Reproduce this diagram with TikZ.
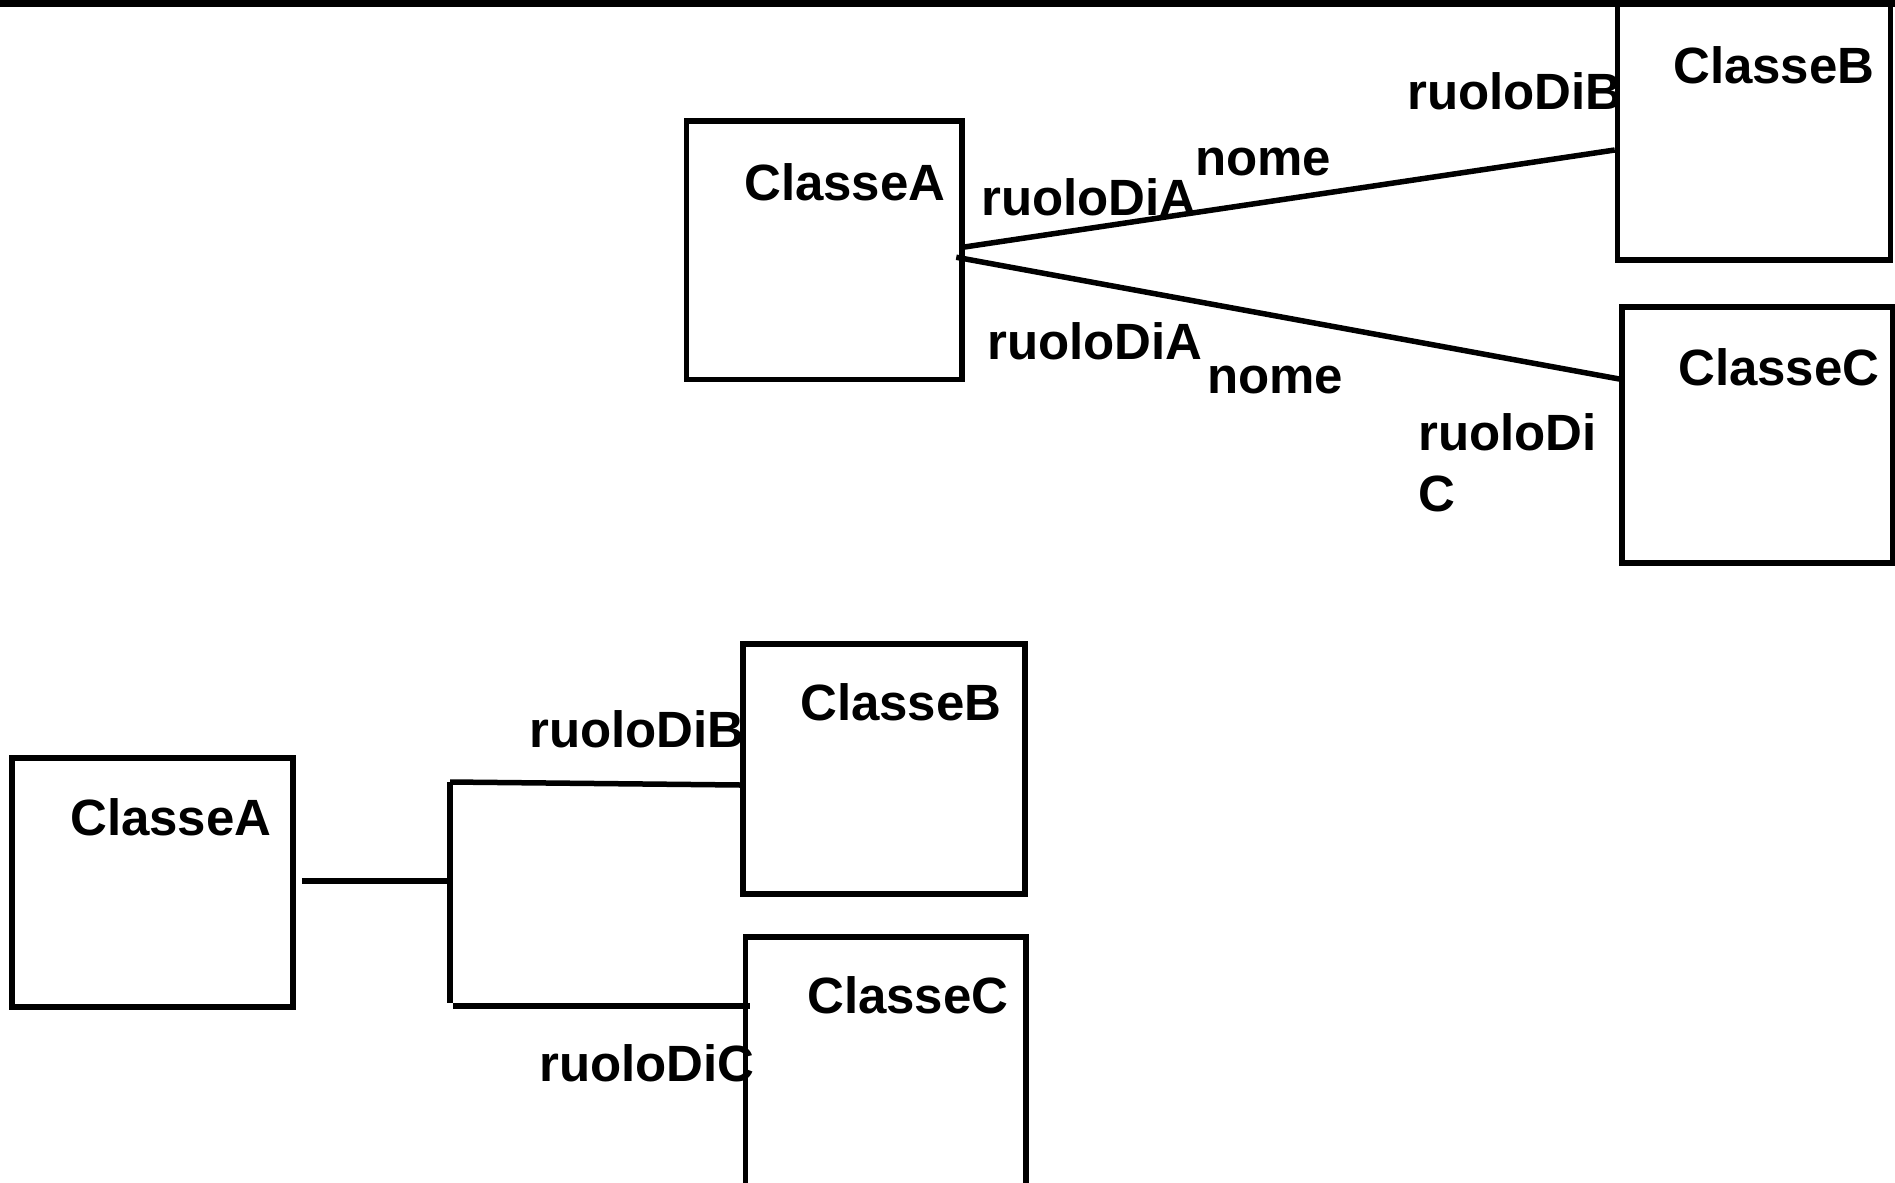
\documentclass[tikz,border=0pt]{standalone}
\usepackage{fontspec}
\setmainfont{Liberation Sans}
\begin{document}
\begin{tikzpicture}[x=1pt,y=-1pt,
  classbox/.style={draw,line width=5.5pt,inner sep=0pt,rectangle},
  lbl/.style={inner sep=0pt,anchor=base west,font=\fontsize{51}{61}\selectfont\bfseries},
  conn/.style={line width=5.5pt}]
\useasboundingbox (0,0) rectangle (1895,1183);

% ---- upper diagram: direct associations ----
\node[classbox,minimum width=275.5pt,minimum height=258.5pt] (A1) at (824.25,250.25) {};
\node[classbox,minimum width=273pt,minimum height=265pt] (B1) at (1754,127.5) {};
\node[classbox,minimum width=271pt,minimum height=256pt] (C1) at (1757.5,435) {};

\node[lbl] (tA1) at (744,200) {ClasseA};
\node[lbl] (tB1) at (1673,83) {ClasseB};
\node[lbl] (tC1) at (1678,385) {ClasseC};

\draw[conn] ([xshift=-2pt,yshift=3pt]A1.east) -- ([yshift=-22.5pt]B1.west);
\draw[conn] ([xshift=-8.5pt,yshift=-7pt]A1.east) -- ([yshift=56pt]C1.west);

\node[lbl] (rA1) at (981,215) {ruoloDiA};
\node[lbl] (n1) at (1195,175) {nome};
\node[lbl] (rB1) at (1407,109) {ruoloDiB};
\node[lbl] (rA2) at (987,359) {ruoloDiA};
\node[lbl] (n2) at (1207,393) {nome};
\node[lbl,align=left] (rC1) at (1418,511) {ruoloDi\\C};

% top rule
\fill (0,0) rectangle (1895,7);

% ---- lower diagram: branching association ----
\node[classbox,minimum width=281pt,minimum height=249pt] (A2) at (152.5,882.5) {};
\node[classbox,minimum width=282pt,minimum height=250pt] (B2) at (884,769) {};
\node[classbox,minimum width=280.5pt,minimum height=258pt] (C2) at (885.75,1066) {};

\node[lbl] (tA2) at (70,835) {ClasseA};
\node[lbl] (tB2) at (800,720) {ClasseB};
\node[lbl] (tC2) at (807,1013) {ClasseC};

\coordinate (jTop) at (450,782);
\coordinate (jMid) at (450,881);
\coordinate (jBot) at (450,1003);
\coordinate (jLow) at (453,1006);
\coordinate (cEnd) at (750,1006);

\draw[conn] ([xshift=6pt,yshift=1.5pt]A2.east) -- (jMid);
\draw[conn] (jTop) -- (jBot);
\draw[conn] (jTop) -- ([yshift=-16pt]B2.west);
\draw[conn] (jLow) -- (cEnd);

\node[lbl] (rB2) at (529,747) {ruoloDiB};
\node[lbl] (rC2) at (539,1081) {ruoloDiC};
\end{tikzpicture}
\end{document}
